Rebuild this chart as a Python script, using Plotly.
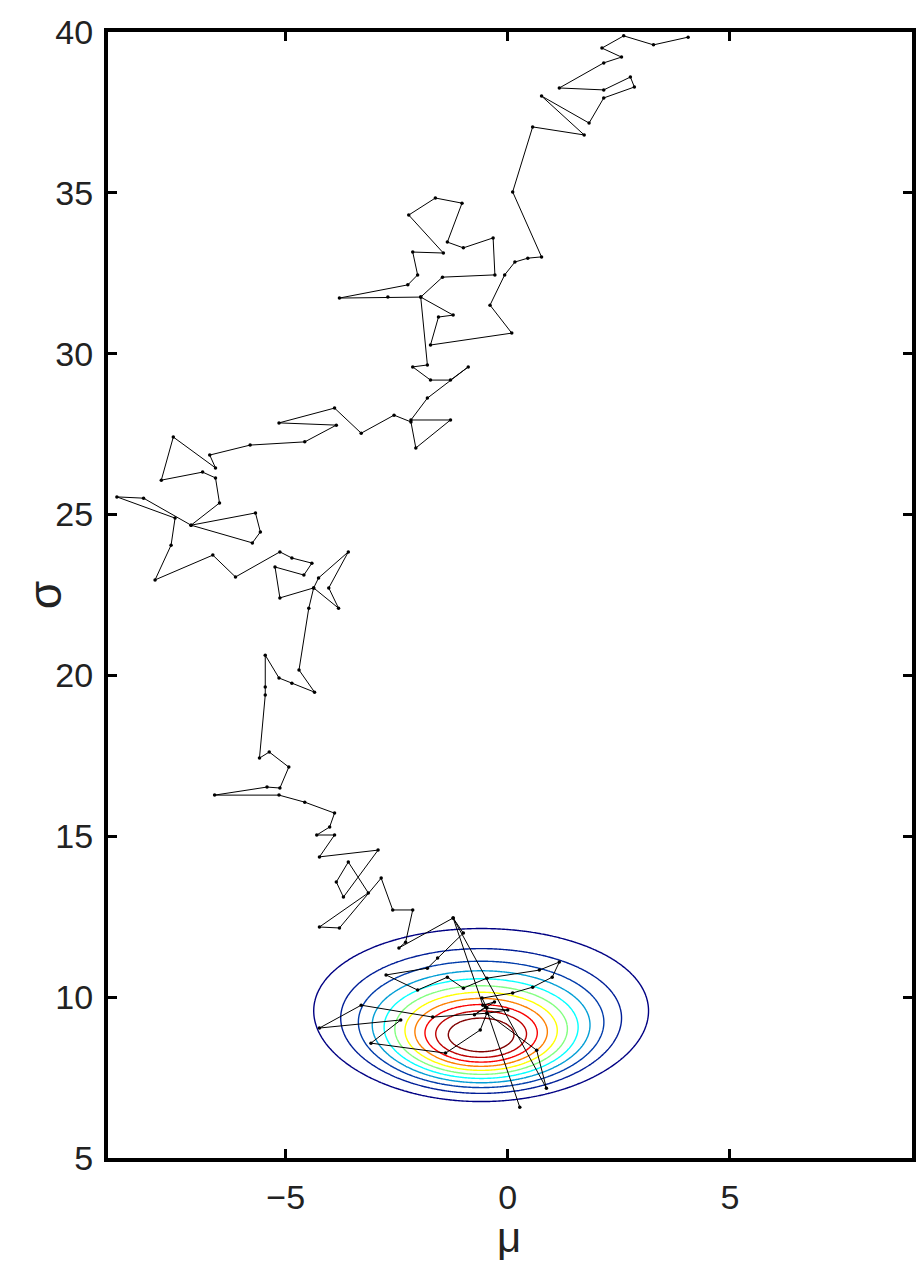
import numpy as np
import plotly.graph_objects as go

# ---- random-walk (MCMC) samples: mu and sigma ----
mu = [4.06, 3.28, 2.61, 2.12, 2.56, 2.16, 1.16, 2.16, 2.76, 2.85, 2.16, 1.83, 0.76, 1.72, 0.56,
      0.11, 0.76, 0.45, 0.16, -0.07, -0.40, 0.09, -1.74, -1.56, -1.23, -1.96, -1.47, -0.29, -0.33,
      -1.00, -1.36, -1.03, -1.63, -2.23, -1.45, -2.14, -2.03, -2.25, -3.79, -2.70, -1.96, -1.81,
      -2.14, -1.74, -1.29, -0.89, -1.81, -2.18, -1.29, -2.07, -2.18, -2.56, -3.30, -3.90, -5.15,
      -3.86, -4.57, -5.80, -6.71, -6.58, -7.53, -7.80, -6.87, -6.58, -6.49, -7.13, -5.68, -5.57,
      -5.75, -7.13, -8.20, -8.80, -7.49, -7.58, -7.94, -6.64, -6.13, -5.13, -4.86, -4.41, -4.59,
      -5.24, -5.13, -4.37, -4.26, -3.59, -4.03, -3.81, -4.37, -4.48, -4.70, -4.35, -4.86, -5.15,
      -5.46, -5.46, -5.46, -5.59, -5.37, -4.93, -5.13, -5.42, -6.60, -5.15, -4.57, -3.90, -4.01,
      -4.30, -3.90, -4.24, -2.92, -3.70, -3.86, -3.59, -3.14, -4.24, -3.79, -2.85, -2.59, -2.14,
      -2.30, -2.45, -1.23, -1.00, -1.58, -1.81, -2.74, -2.03, -1.36, -1.00, -0.47, 0.71, 1.16,
      1.00, 0.56, 0.11, -0.58, -0.47, 0.00, -0.47, -1.69, -3.30, -4.24, -2.41, -3.08, -1.40,
      -0.62, -0.47, 0.65, 0.87, -1.23, -0.56, -0.30, -0.75, -0.50, 0.27]
sigma = [39.84, 39.60, 39.88, 39.50, 39.22, 39.04, 38.26, 38.20, 38.60, 38.29, 37.95, 37.17, 38.01,
         36.80, 37.05, 35.03, 33.01, 32.97, 32.85, 32.45, 31.51, 30.64, 30.27, 31.14, 31.20, 31.76,
         32.38, 32.45, 33.60, 33.29, 33.47, 34.68, 34.84, 34.31, 33.13, 33.16, 32.45, 32.14, 31.73,
         31.76, 31.76, 29.65, 29.59, 29.18, 29.18, 29.59, 28.62, 27.94, 27.94, 27.07, 27.88, 28.09,
         27.53, 28.31, 27.85, 27.78, 27.26, 27.16, 26.85, 26.45, 27.41, 26.07, 26.32, 26.14, 25.36,
         24.67, 25.05, 24.46, 24.12, 24.67, 25.51, 25.55, 24.89, 24.05, 22.97, 23.74, 23.06, 23.84,
         23.65, 23.49, 23.12, 23.37, 22.41, 22.72, 23.03, 23.84, 22.72, 22.09, 22.72, 22.09, 20.17,
         19.48, 19.76, 19.92, 20.63, 19.64, 19.39, 17.43, 17.62, 17.15, 16.50, 16.53, 16.28, 16.28,
         16.06, 15.72, 15.29, 15.04, 15.04, 14.36, 14.57, 13.11, 13.58, 14.20, 13.24, 12.18, 12.15,
         13.70, 12.71, 12.71, 11.71, 11.53, 12.46, 11.99, 11.22, 10.90, 10.69, 10.22, 10.62, 10.28,
         10.59, 10.84, 11.09, 10.62, 10.31, 10.13, 9.97, 9.66, 9.60, 9.50, 9.38, 9.75, 9.04, 9.29,
         8.57, 8.26, 8.98, 9.50, 8.35, 7.17, 12.46, 9.75, 9.85, 9.45, 9.70, 6.58]

# ---- likelihood surface parameters (contours) ----
mu_hat = -0.6        # sample mean
sigma_hat = 8.8      # ML estimate of sigma
n_obs = 30           # number of observations
levels_start, levels_end, levels_step = 0.08, 0.90, 0.082

x_ticks = [-5, 0, 5]
y_ticks = [5, 10, 15, 20, 25, 30, 35, 40]

mg = np.linspace(-5.5, 4.5, 260)
sg = np.linspace(5.8, 13.5, 260)
M, S = np.meshgrid(mg, sg)
loglik = n_obs * (-np.log(S / sigma_hat) - (sigma_hat**2 + (M - mu_hat)**2) / (2 * S**2) + 0.5)
Z = np.exp(loglik)

fig = go.Figure()
fig.add_trace(go.Contour(
    x=mg, y=sg, z=Z,
    contours=dict(coloring="lines", start=levels_start, end=levels_end, size=levels_step),
    colorscale="Jet", zmin=levels_start, zmax=levels_end,
    line=dict(width=1.4), showscale=False, hoverinfo="skip"))
fig.add_trace(go.Scatter(
    x=mu, y=sigma, mode="lines+markers",
    line=dict(color="black", width=1),
    marker=dict(color="black", size=3.5),
    showlegend=False))

font_family = "Liberation Sans, Arial, sans-serif"
axis_common = dict(showline=True, linewidth=4, linecolor="black", mirror="allticks",
                   ticks="inside", ticklen=9, tickwidth=2.5, tickcolor="black",
                   showgrid=False, zeroline=False,
                   tickfont=dict(family=font_family, size=34, color="#222"))
fig.update_xaxes(range=[-9, 9.1], tickvals=x_ticks, ticktext=["\u22125", "0", "5"],
                 ticklabelstandoff=6, **axis_common)
fig.update_yaxes(range=[5, 40], tickvals=y_ticks, ticklabelstandoff=4, **axis_common)

fig.add_annotation(text="\u03c3", xref="paper", yref="paper", x=-0.078, y=0.50,
                   xanchor="center", yanchor="middle", showarrow=False, textangle=-90,
                   font=dict(family=font_family, size=46, color="#222"))
fig.add_annotation(text="\u03bc", xref="paper", yref="paper", x=0.499, y=-0.071,
                   xanchor="center", yanchor="middle", showarrow=False,
                   font=dict(family=font_family, size=42, color="#222"))

fig.update_layout(width=910, height=1258, margin=dict(l=100, r=2, t=24, b=108),
                  paper_bgcolor="white", plot_bgcolor="white", showlegend=False)
fig.write_html("out.html")
